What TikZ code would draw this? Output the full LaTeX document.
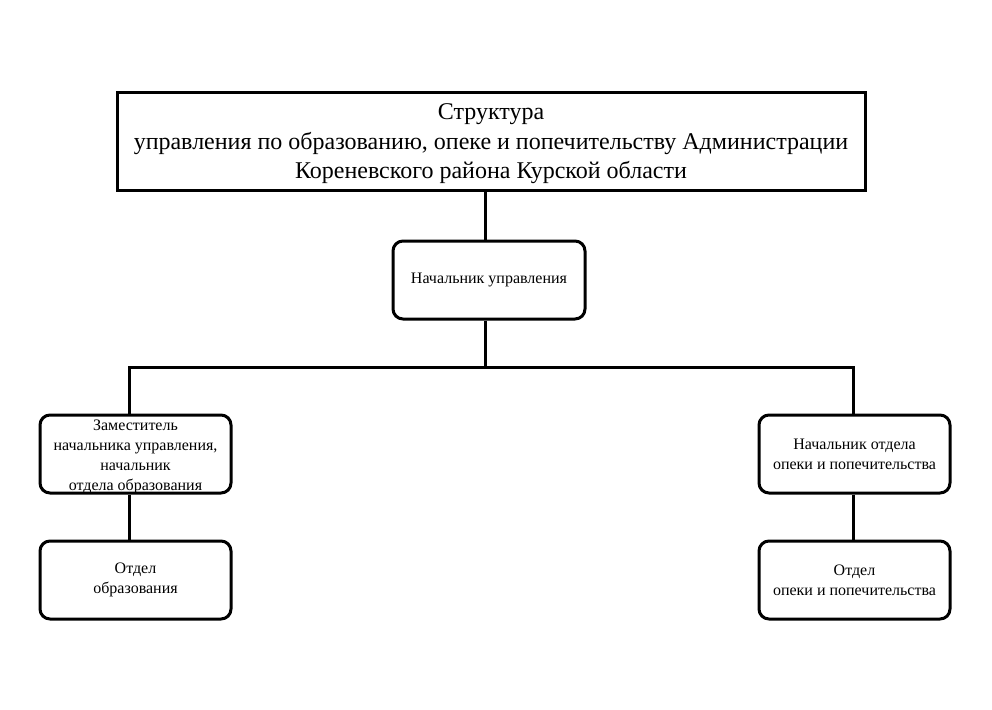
\documentclass[tikz,border=0pt]{standalone}
\usepackage{fontspec}
\setmainfont{Liberation Serif}
\begin{document}
\begin{tikzpicture}[x=1pt,y=-1pt,
  box/.style={draw=black,line width=3pt,rounded corners=10pt,align=center,inner sep=0pt,
    font=\fontsize{16}{20}\selectfont},
  link/.style={draw=black,line width=3pt}]
\useasboundingbox (0,0) rectangle (992,709);
\node[draw=black,line width=3pt,minimum width=748pt,minimum height=98pt,inner sep=0pt] (title) at (491,141) {};
\node[align=center,inner sep=0pt,font=\fontsize{24}{29.5}\selectfont] (titletext) at (491,144)
  {Структура\\управления по образованию, опеке и попечительству Администрации\\Кореневского района Курской области};
\node[box,minimum width=192pt,minimum height=78pt] (head) at (489,280) {Начальник управления};
\node[box,minimum width=191pt,minimum height=78pt] (dep) at (135.5,454) {};
\node[align=center,inner sep=0pt,font=\fontsize{16}{20}\selectfont] (deptext) at (135.5,457) {Заместитель\\начальника управления,\\начальник\\отдела образования};
\node[box,minimum width=191pt,minimum height=78pt] (opk) at (854.5,454) {Начальник отдела\\опеки и попечительства};
\node[box,minimum width=191pt,minimum height=78pt] (edu) at (135.5,580) {Отдел\\образования};
\node[box,minimum width=191pt,minimum height=78pt] (opd) at (854.5,580) {Отдел\\опеки и попечительства};
\coordinate (bus) at (485,367);
\draw[link] (title.south -| bus) -- (head.north -| bus);
\draw[link] (head.south -| bus) -- (bus);
\draw[link] (dep.north -| 129,0) -- (129,367) -- (853,367) -- (opk.north -| 853,0);
\draw[link] (dep.south -| 129,0) -- (edu.north -| 129,0);
\draw[link] (opk.south -| 853,0) -- (opd.north -| 853,0);
\end{tikzpicture}
\end{document}
